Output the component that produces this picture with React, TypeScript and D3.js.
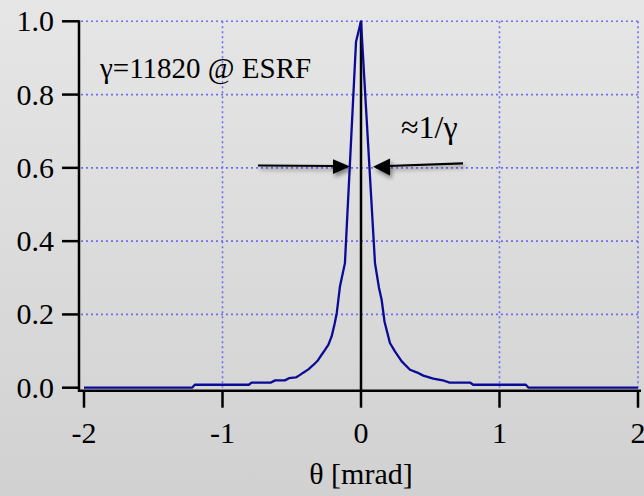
import React from "react";
import * as d3 from "d3";

const theta: number[] = [
  -2.0, -1.22, -1.2, -0.81, -0.79, -0.65, -0.62, -0.55, -0.52, -0.47, -0.44,
  -0.417, -0.38, -0.344, -0.31, -0.284, -0.26, -0.236, -0.212, -0.19, -0.175,
  -0.152, -0.116, -0.036, 0.0, 0.101, 0.13, 0.149, 0.17, 0.209, 0.245, 0.294,
  0.354, 0.402, 0.45, 0.522, 0.6, 0.64, 0.787, 0.81, 1.19, 1.21, 2.0,
];
const intensity: number[] = [
  0.0, 0.0, 0.008, 0.008, 0.014, 0.014, 0.02, 0.02, 0.026, 0.028, 0.035,
  0.041, 0.05, 0.062, 0.075, 0.09, 0.103, 0.117, 0.14, 0.175, 0.204,
  0.276, 0.34, 0.944, 1.0, 0.34, 0.272, 0.24, 0.18, 0.122, 0.099, 0.072,
  0.049, 0.042, 0.033, 0.025, 0.019, 0.014, 0.014, 0.008, 0.008, 0.0, 0.0,
];
const xTicks: number[] = [-2, -1, 0, 1, 2];
const yTicks: number[] = [0, 0.2, 0.4, 0.6, 0.8, 1.0];
const xGrid: number[] = [-1, 0, 1, 2];
const yGrid: number[] = [0.2, 0.4, 0.6, 0.8, 1.0];
const annotation = "γ=11820 @ ESRF";
const widthLabel = "≈1/γ";
const xTitle = "θ [mrad]";

const W = 644;
const H = 496;
const FONT = '"Liberation Serif"';

export default function App() {
  const x = d3.scaleLinear().domain([-2, 2]).range([84, 638]);
  const y = d3.scaleLinear().domain([0, 1]).range([387.7, 21.3]);
  const axisX = 79;
  const axisY = y(0) + 3;
  const pts: [number, number][] = theta.map((t, i) => [t, intensity[i]]);
  const line = d3
    .line<[number, number]>()
    .x((d) => x(d[0]))
    .y((d) => y(d[1]));
  const fmt = d3.format(".1f");
  const txt = { fontFamily: FONT };

  return (
    <div style={{ position: "fixed", left: 0, top: 0, width: W, height: H }}>
      <svg width={W} height={H} style={{ display: "block" }}>
        <defs>
          <linearGradient id="bg" x1="0" y1="0" x2="0" y2="1">
            <stop offset="0" stopColor="#e6e6e6" />
            <stop offset="1" stopColor="#d1d1d1" />
          </linearGradient>
          <filter id="shadow" x="-20%" y="-60%" width="140%" height="260%">
            <feDropShadow dx="2" dy="3" stdDeviation="2" floodColor="#000" floodOpacity="0.45" />
          </filter>
        </defs>
        <rect x={0} y={0} width={W} height={H} fill="url(#bg)" />

        {/* grid */}
        {yGrid.map((v) => (
          <line
            key={"gy" + v}
            x1={axisX + 2}
            x2={x(2)}
            y1={y(v)}
            y2={y(v)}
            stroke="#6e6ef2"
            strokeWidth={1.6}
            strokeDasharray="2,3"
          />
        ))}
        {xGrid.map((v) => (
          <line
            key={"gx" + v}
            x1={x(v)}
            x2={x(v)}
            y1={y(1)}
            y2={y(0)}
            stroke="#6e6ef2"
            strokeWidth={1.6}
            strokeDasharray="2,3"
          />
        ))}

        {/* zero line */}
        <line x1={x(0)} x2={x(0)} y1={y(1)} y2={axisY} stroke="#000" strokeWidth={2.5} />

        {/* curve */}
        <path d={line(pts) || ""} fill="none" stroke="#0a0a96" strokeWidth={2.3} strokeLinejoin="round" />

        {/* axes */}
        <line x1={axisX} x2={axisX} y1={y(1) - 1} y2={axisY + 1} stroke="#000" strokeWidth={2.5} />
        <line x1={axisX - 1} x2={641} y1={axisY} y2={axisY} stroke="#000" strokeWidth={2.5} />
        {yTicks.map((v) => (
          <g key={"yt" + v}>
            <line x1={axisX - 17} x2={axisX} y1={y(v)} y2={y(v)} stroke="#000" strokeWidth={2.5} />
            <text x={54} y={y(v) + 10} textAnchor="end" style={txt} fontSize={30} fill="#000">
              {fmt(v)}
            </text>
          </g>
        ))}
        {xTicks.map((v) => (
          <g key={"xt" + v}>
            <line x1={x(v)} x2={x(v)} y1={axisY} y2={axisY + 17} stroke="#000" strokeWidth={2.5} />
            <text x={x(v)} y={443} textAnchor="middle" style={txt} fontSize={30} fill="#000">
              {v}
            </text>
          </g>
        ))}
        <text x={x(0)} y={484} textAnchor="middle" style={txt} fontSize={30} fill="#000">
          {xTitle}
        </text>

        {/* annotations */}
        <text x={100} y={78} style={txt} fontSize={29} fill="#000">
          {annotation}
        </text>
        <text x={401} y={138} style={txt} fontSize={32} fill="#000">
          {widthLabel}
        </text>

        {/* arrows */}
        <g filter="url(#shadow)">
          <line x1={258} y1={165.5} x2={336} y2={166} stroke="#000" strokeWidth={2.2} />
          <path d="M 350 166.5 L 333 159.3 L 333 174 Z" fill="#000" />
          <line x1={463} y1={163.3} x2={388} y2={166} stroke="#000" strokeWidth={2.2} />
          <path d="M 373 166.7 L 390 158.5 L 390 175.5 Z" fill="#000" />
        </g>
      </svg>
    </div>
  );
}
